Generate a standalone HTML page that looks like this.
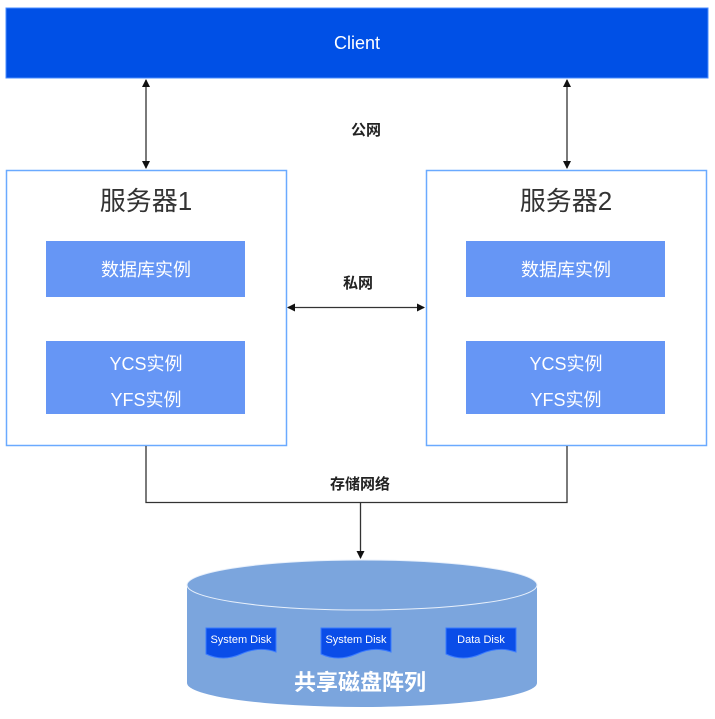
<!DOCTYPE html>
<html><head><meta charset="utf-8"><style>
body{margin:0;width:715px;height:719px;background:#fff;overflow:hidden;font-family:"Liberation Sans","Noto Sans CJK SC",sans-serif}
</style></head><body>
<svg width="715" height="719" xmlns="http://www.w3.org/2000/svg" style="position:absolute;left:0;top:0">
<defs><marker id="a" markerWidth="8" markerHeight="8" refX="7" refY="4" orient="auto-start-reverse" markerUnits="userSpaceOnUse"><path d="M0,0 L8,4 L0,8 z" fill="#111"/></marker></defs>
<rect x="6" y="8" width="702" height="70" fill="#0050e6" stroke="#4a8cff"/>
<text x="357" y="49" fill="#fff" font-size="18" text-anchor="middle">Client</text>
<rect x="6.5" y="170.5" width="280" height="275" fill="#fff" stroke="#6aaaff" stroke-width="1.5"/>
<rect x="426.5" y="170.5" width="280" height="275" fill="#fff" stroke="#6aaaff" stroke-width="1.5"/>
<text x="146" y="210" font-size="26" fill="#333" text-anchor="middle">服务器1</text>
<text x="566" y="210" font-size="26" fill="#333" text-anchor="middle">服务器2</text>
<g fill="#6696f5">
<rect x="46" y="241" width="199" height="56"/><rect x="46" y="341" width="199" height="73"/>
<rect x="466" y="241" width="199" height="56"/><rect x="466" y="341" width="199" height="73"/>
</g>
<g fill="#fff" font-size="18" text-anchor="middle">
<text x="146" y="276">数据库实例</text><text x="146" y="370">YCS实例</text><text x="146" y="406">YFS实例</text>
<text x="566" y="276">数据库实例</text><text x="566" y="370">YCS实例</text><text x="566" y="406">YFS实例</text>
</g>
<g stroke="#333" stroke-width="1.3" fill="none">
<line x1="146" y1="80" x2="146" y2="168" marker-start="url(#a)" marker-end="url(#a)"/>
<line x1="567" y1="80" x2="567" y2="168" marker-start="url(#a)" marker-end="url(#a)"/>
<line x1="288" y1="307.5" x2="424" y2="307.5" marker-start="url(#a)" marker-end="url(#a)"/>
<polyline points="146,446 146,502.5 567,502.5 567,446"/>
<line x1="360.5" y1="502" x2="360.5" y2="558" marker-end="url(#a)"/>
</g>
<g font-size="15" font-weight="bold" fill="#222" text-anchor="middle">
<text x="366" y="135">公网</text><text x="358" y="288">私网</text><text x="360" y="489">存储网络</text>
</g>
<path d="M187,585 L187,683 A175,24 0 0 0 537,683 L537,585" fill="#7ba5dd"/>
<ellipse cx="362" cy="585" rx="175" ry="25" fill="#7ba5dd" stroke="#e8f0fb" stroke-width="1"/>
<g fill="#0a4de8" stroke="#3a7aff" stroke-width="1">
<path d="M206,628 h70 v24 q-17,-6 -35,2 t-35,0 z"/>
<path d="M321,628 h70 v24 q-17,-6 -35,2 t-35,0 z"/>
<path d="M446,628 h70 v24 q-17,-6 -35,2 t-35,0 z"/>
</g>
<g fill="#fff" font-size="11" text-anchor="middle">
<text x="241" y="643">System Disk</text><text x="356" y="643">System Disk</text><text x="481" y="643">Data Disk</text>
</g>
<text x="360" y="690" fill="#fff" font-size="22" font-weight="bold" text-anchor="middle">共享磁盘阵列</text>
</svg>
</body></html>
